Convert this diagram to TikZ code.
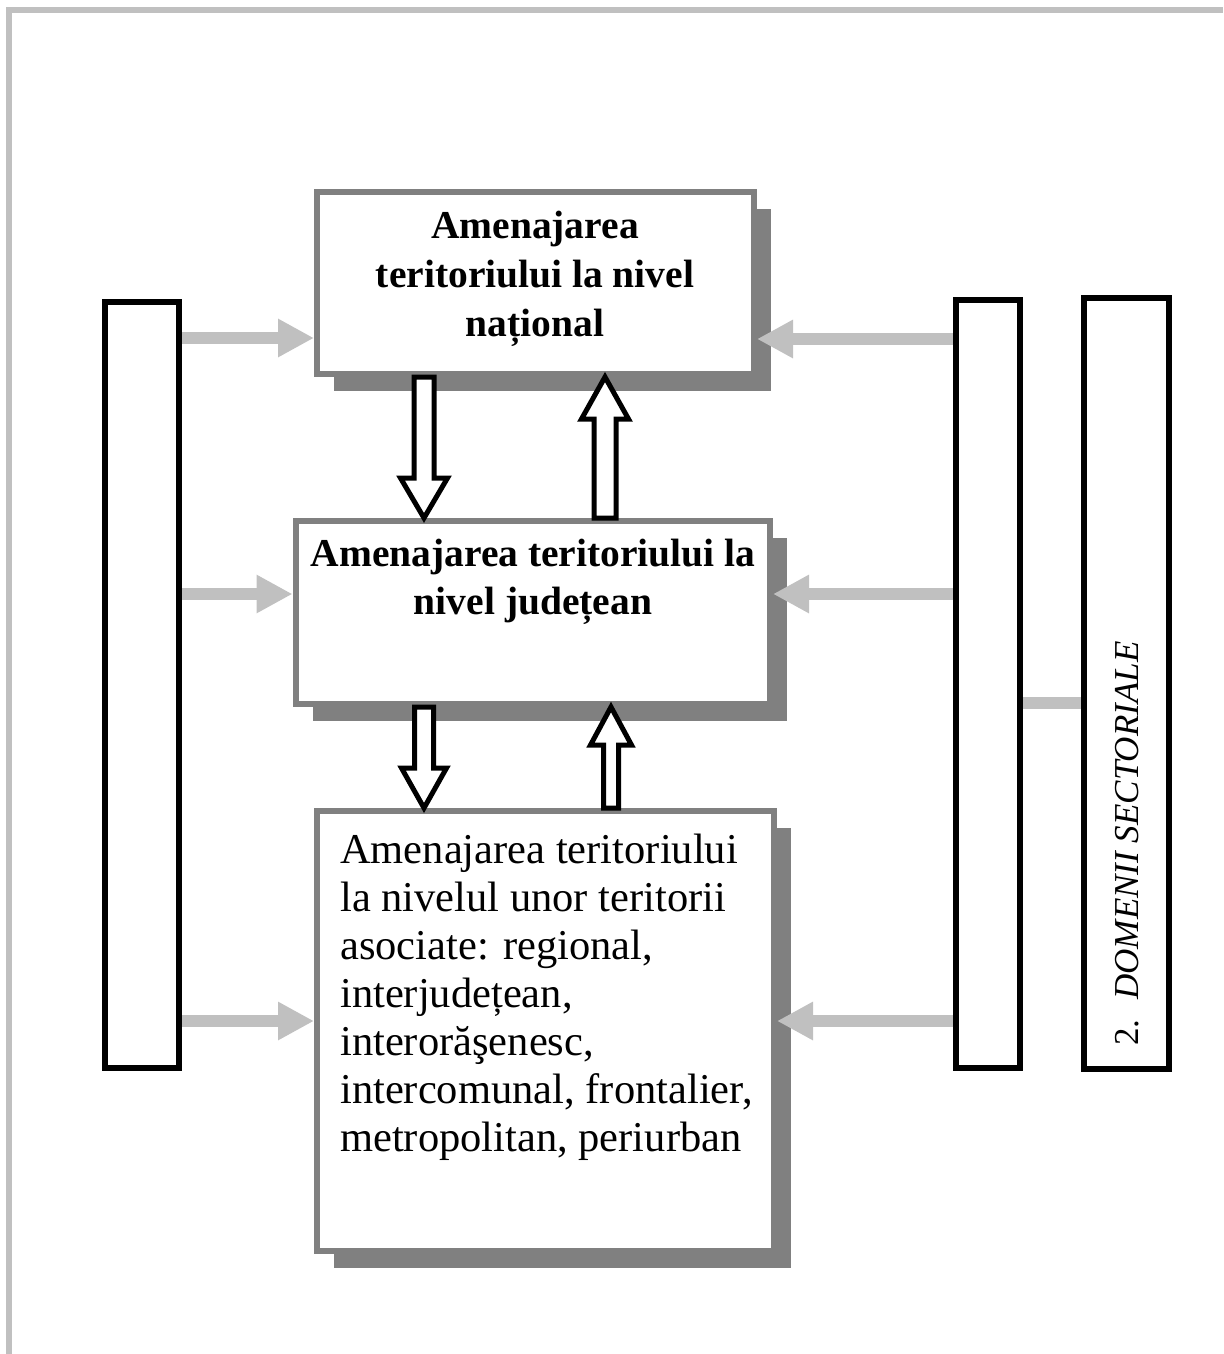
\documentclass[tikz,border=0pt]{standalone}
\usepackage{fontspec}
\setmainfont{Liberation Serif}
\usetikzlibrary{arrows.meta,calc,shadows}

\definecolor{framegray}{HTML}{C0C0C0}
\definecolor{boxgray}{HTML}{808080}

\tikzset{
  level/.style={draw=boxgray, line width=6pt, fill=white, inner sep=0pt,
    drop shadow={shadow xshift=17pt, shadow yshift=-17pt, opacity=1, fill=boxgray}},
  bar/.style={draw=black, line width=6pt, fill=white, inner sep=0pt},
  feed/.style={draw=framegray, line width=12pt, -{Triangle[length=36pt,width=36pt]}},
  hollow/.style={draw=black, fill=white, line width=5pt, line join=miter},
}

% hollow block arrow: from, to, shaft half width, head half width, head length
\newcommand{\blockarrow}[5]{%
  \draw[hollow] let \p1=(#1), \p2=(#2), \n1={sign(\y2-\y1)} in
    (\x1-#3,\y1) -- (\x1-#3,\y2-\n1*#5) -- (\x1-#4,\y2-\n1*#5) -- (\x1,\y2)
    -- (\x1+#4,\y2-\n1*#5) -- (\x1+#3,\y2-\n1*#5) -- (\x1+#3,\y1) -- cycle;}

\begin{document}
\begin{tikzpicture}[x=1pt, y=-1pt]
  \useasboundingbox (0,0) rectangle (1223,1354);
  \draw[framegray, line width=6pt, line join=miter] (9,1354) -- (9,10) -- (1223,10);

  % side bars
  \node[bar, minimum width=74.5pt, minimum height=766pt] (leftbar) at (141.75,685) {};
  \node[bar, minimum width=64pt, minimum height=768pt] (midbar) at (988,684) {};
  \node[bar, minimum width=85pt, minimum height=771pt] (sidebar) at (1126.5,683.5) {};
  \node[rotate=90, anchor=base west, inner sep=0pt, font=\fontsize{35}{42}\selectfont]
    (sidetxt) at (1138,1046) {2.\hspace{20pt}\textit{DOMENII SECTORIALE}};

  % levels
  \node[level, minimum width=437pt, minimum height=182pt] (nat) at (535.5,283) {};
  \node[level, minimum width=474.5pt, minimum height=183pt] (jud) at (532.75,612.5) {};
  \node[level, minimum width=457pt, minimum height=440pt] (loc) at (545.5,1031) {};

  \node[font=\bfseries\fontsize{39.5}{49}\selectfont, align=center] (nattxt) at (535,279)
    {Amenajarea\\teritoriului la nivel\\național};
  \node[font=\bfseries\fontsize{39.5}{48}\selectfont, align=center] (judtxt) at (533,582)
    {Amenajarea teritoriului la\\nivel județean};
  \node[font=\fontsize{42.5}{48}\selectfont, align=left, anchor=west, inner sep=0pt] (loctxt) at (340,997.5)
    {Amenajarea teritoriului\\la nivelul unor teritorii\\asociate: regional,\\interjudețean,\\interorăşenesc,\\intercomunal, frontalier,\\metropolitan, periurban};

  % between levels
  \blockarrow{424,0 |- nat.south}{424,0 |- jud.north}{10pt}{23.5pt}{40pt}
  \blockarrow{605,0 |- jud.north}{605,0 |- nat.south}{11pt}{23.5pt}{42pt}
  \blockarrow{424,0 |- jud.south}{424,0 |- loc.north}{9.5pt}{22.5pt}{40pt}
  \blockarrow{611,0 |- loc.north}{611,0 |- jud.south}{7.5pt}{20.5pt}{38pt}

  % inputs from the bars
  \draw[feed] (leftbar.east |- 0,338) -- (nat.west |- 0,338);
  \draw[feed] (leftbar.east |- 0,594) -- (jud.west |- 0,594);
  \draw[feed] (leftbar.east |- 0,1021) -- (loc.west |- 0,1021);
  \draw[feed] (midbar.west |- 0,339) -- (nat.east |- 0,339);
  \draw[feed] (midbar.west |- 0,594) -- (jud.east |- 0,594);
  \draw[feed] (midbar.west |- 0,1021) -- (loc.east |- 0,1021);
  \draw[framegray, line width=12pt] (midbar.east |- 0,703) -- (sidebar.west |- 0,703);
\end{tikzpicture}
\end{document}
